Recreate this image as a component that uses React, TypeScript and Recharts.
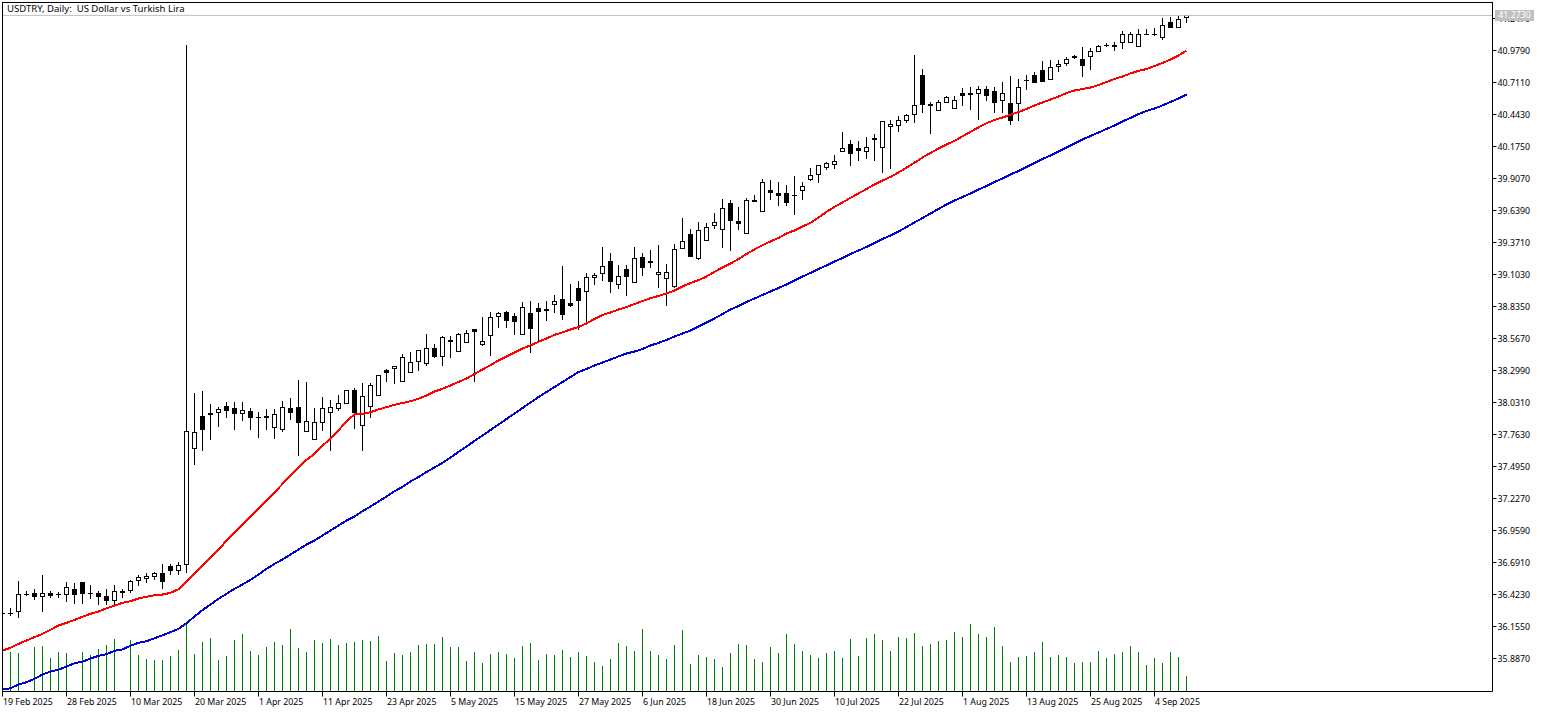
import React from 'react';
import { ComposedChart, Bar, Line, XAxis, YAxis, ReferenceLine } from 'recharts';

const dateLabels = ['19 Feb 2025', '28 Feb 2025', '10 Mar 2025', '20 Mar 2025', '1 Apr 2025', '11 Apr 2025', '23 Apr 2025', '5 May 2025', '15 May 2025', '27 May 2025', '6 Jun 2025', '18 Jun 2025', '30 Jun 2025', '10 Jul 2025', '22 Jul 2025', '1 Aug 2025', '13 Aug 2025', '25 Aug 2025', '4 Sep 2025'];
const priceTicks = [41.247, 40.979, 40.711, 40.443, 40.175, 39.907, 39.639, 39.371, 39.103, 38.835, 38.567, 38.299, 38.031, 37.763, 37.495, 37.227, 36.959, 36.691, 36.423, 36.155, 35.887];
const lastPrice = 41.273;

const open = [
  36.262, 36.268, 36.27, 36.423, 36.429, 36.401, 36.432, 36.423, 36.417, 36.465,
  36.524, 36.429, 36.432, 36.406, 36.367, 36.448, 36.451, 36.53, 36.551, 36.568,
  36.597, 36.658, 36.618, 36.664, 37.635, 37.911, 37.939, 37.942, 37.995, 37.978,
  37.933, 37.953, 37.903, 37.914, 37.816, 37.799, 37.978, 37.987, 37.783, 37.716,
  37.858, 37.942, 37.975, 38.017, 38.129, 37.833, 37.992, 38.084, 38.299, 38.31,
  38.201, 38.277, 38.369, 38.352, 38.481, 38.411, 38.551, 38.453, 38.528, 38.64,
  38.511, 38.588, 38.741, 38.782, 38.749, 38.595, 38.774, 38.816, 38.808, 38.841,
  38.891, 38.858, 38.984, 38.95, 39.067, 39.101, 39.21, 39.014, 39.143, 39.025,
  39.243, 39.21, 39.092, 39.059, 38.997, 39.31, 39.436, 39.226, 39.377, 39.508,
  39.474, 39.695, 39.545, 39.441, 39.721, 39.625, 39.804, 39.779, 39.779, 39.762,
  39.801, 39.893, 39.93, 39.994, 40.014, 40.122, 40.189, 40.156, 40.122, 40.24,
  40.156, 40.332, 40.34, 40.387, 40.432, 40.767, 40.513, 40.466, 40.538, 40.488,
  40.617, 40.6, 40.613, 40.65, 40.633, 40.555, 40.533, 40.525, 40.725, 40.767,
  40.809, 40.731, 40.834, 40.864, 40.926, 40.901, 40.918, 40.96, 41.021, 41.019,
  41.04, 41.035, 41.002, 41.111, 41.111, 41.082, 41.211, 41.161, 41.245,
];
const high = [
  36.264, 36.314, 36.54, 36.457, 36.471, 36.591, 36.457, 36.448, 36.532, 36.524,
  36.524, 36.507, 36.457, 36.473, 36.507, 36.473, 36.549, 36.591, 36.608, 36.616,
  36.683, 36.683, 36.7, 41.03, 38.115, 38.132, 38.023, 37.998, 38.04, 38.04,
  38.04, 37.989, 37.956, 37.981, 37.981, 38.048, 38.073, 38.224, 38.207, 37.989,
  38.081, 38.056, 38.098, 38.129, 38.157, 38.199, 38.199, 38.255, 38.314, 38.341,
  38.439, 38.458, 38.464, 38.609, 38.523, 38.59, 38.59, 38.615, 38.64, 38.649,
  38.752, 38.793, 38.793, 38.802, 38.782, 38.875, 38.885, 38.866, 38.885, 38.936,
  39.179, 39.028, 39.05, 39.12, 39.117, 39.338, 39.285, 39.187, 39.184, 39.338,
  39.287, 39.31, 39.354, 39.195, 39.36, 39.581, 39.488, 39.547, 39.536, 39.62,
  39.737, 39.729, 39.67, 39.746, 39.771, 39.905, 39.896, 39.882, 39.854, 39.932,
  39.88, 39.999, 40.014, 40.047, 40.108, 40.301, 40.231, 40.225, 40.256, 40.282,
  40.393, 40.401, 40.435, 40.449, 40.946, 40.826, 40.55, 40.566, 40.6, 40.6,
  40.667, 40.675, 40.684, 40.684, 40.675, 40.717, 40.767, 40.742, 40.776, 40.801,
  40.895, 40.901, 40.901, 40.926, 40.943, 41.013, 41.002, 41.027, 41.044, 41.052,
  41.144, 41.136, 41.161, 41.161, 41.169, 41.253, 41.261, 41.272, 41.278,
];
const low = [
  36.256, 36.239, 36.225, 36.406, 36.373, 36.275, 36.392, 36.392, 36.359, 36.339,
  36.339, 36.381, 36.331, 36.331, 36.331, 36.39, 36.434, 36.49, 36.515, 36.54,
  36.465, 36.582, 36.582, 36.599, 37.504, 37.621, 37.713, 37.822, 37.897, 37.797,
  37.872, 37.797, 37.73, 37.797, 37.721, 37.78, 37.88, 37.579, 37.783, 37.716,
  37.788, 37.621, 37.958, 38.017, 37.805, 37.621, 37.897, 38.084, 38.201, 38.182,
  38.201, 38.277, 38.291, 38.333, 38.4, 38.333, 38.4, 38.453, 38.528, 38.201,
  38.503, 38.416, 38.651, 38.651, 38.592, 38.595, 38.442, 38.542, 38.71, 38.777,
  38.715, 38.827, 38.632, 38.69, 39.011, 39.045, 38.942, 38.98, 38.919, 39.025,
  39.086, 39.151, 38.986, 38.835, 38.983, 39.31, 39.248, 39.218, 39.377, 39.478,
  39.321, 39.296, 39.472, 39.441, 39.706, 39.625, 39.723, 39.673, 39.673, 39.597,
  39.723, 39.88, 39.863, 39.974, 39.983, 40.122, 40.008, 40.05, 40.066, 40.05,
  39.949, 39.983, 40.292, 40.37, 40.365, 40.454, 40.278, 40.466, 40.533, 40.488,
  40.513, 40.479, 40.395, 40.555, 40.454, 40.454, 40.354, 40.387, 40.647, 40.705,
  40.714, 40.731, 40.792, 40.843, 40.901, 40.751, 40.809, 40.96, 41.002, 40.967,
  40.99, 41.035, 41.002, 41.102, 41.094, 41.066, 41.161, 41.161, 41.203,
];
const close = [
  36.258, 36.26, 36.421, 36.425, 36.401, 36.429, 36.409, 36.423, 36.479, 36.415,
  36.423, 36.429, 36.398, 36.365, 36.446, 36.434, 36.53, 36.563, 36.571, 36.597,
  36.524, 36.616, 36.664, 37.786, 37.778, 37.797, 37.925, 37.97, 37.958, 37.931,
  37.962, 37.897, 37.903, 37.897, 37.928, 37.987, 37.942, 37.855, 37.87, 37.861,
  37.978, 37.987, 38.02, 38.129, 37.939, 38.079, 38.171, 38.255, 38.277, 38.333,
  38.406, 38.364, 38.464, 38.481, 38.408, 38.573, 38.534, 38.598, 38.607, 38.62,
  38.54, 38.741, 38.774, 38.712, 38.701, 38.824, 38.645, 38.785, 38.796, 38.875,
  38.757, 38.835, 38.875, 39.076, 39.092, 39.168, 39.039, 39.084, 39.081, 39.235,
  39.156, 39.198, 39.117, 39.117, 39.31, 39.377, 39.248, 39.469, 39.494, 39.536,
  39.653, 39.55, 39.525, 39.721, 39.709, 39.871, 39.784, 39.756, 39.7, 39.762,
  39.838, 39.93, 40.014, 40.03, 40.047, 40.156, 40.111, 40.136, 40.164, 40.225,
  40.382, 40.357, 40.391, 40.432, 40.516, 40.521, 40.53, 40.541, 40.583, 40.558,
  40.597, 40.617, 40.65, 40.597, 40.538, 40.617, 40.387, 40.667, 40.725, 40.705,
  40.714, 40.834, 40.859, 40.901, 40.91, 40.848, 40.968, 41.01, 41.01, 41.002,
  41.111, 41.111, 41.111, 41.111, 41.102, 41.186, 41.161, 41.236, 41.273,
];
const maFast = [
  35.954, 35.977, 36.01, 36.038, 36.066, 36.094, 36.128, 36.164, 36.186, 36.211,
  36.237, 36.262, 36.281, 36.308, 36.329, 36.354, 36.367, 36.39, 36.404, 36.417,
  36.423, 36.437, 36.468, 36.532, 36.597, 36.664, 36.731, 36.798, 36.875, 36.942,
  37.01, 37.077, 37.143, 37.21, 37.277, 37.35, 37.417, 37.484, 37.551, 37.602,
  37.671, 37.727, 37.797, 37.875, 37.931, 37.933, 37.95, 37.973, 37.992, 38.012,
  38.027, 38.042, 38.062, 38.09, 38.123, 38.146, 38.174, 38.203, 38.232, 38.27,
  38.308, 38.344, 38.383, 38.417, 38.45, 38.484, 38.509, 38.54, 38.567, 38.598,
  38.618, 38.643, 38.664, 38.693, 38.731, 38.764, 38.785, 38.81, 38.831, 38.856,
  38.881, 38.905, 38.923, 38.944, 38.969, 39.003, 39.032, 39.056, 39.086, 39.126,
  39.162, 39.195, 39.233, 39.275, 39.313, 39.349, 39.38, 39.409, 39.447, 39.472,
  39.505, 39.536, 39.581, 39.627, 39.669, 39.706, 39.746, 39.782, 39.819, 39.857,
  39.89, 39.92, 39.957, 39.998, 40.04, 40.083, 40.121, 40.159, 40.192, 40.222,
  40.26, 40.298, 40.335, 40.37, 40.397, 40.418, 40.441, 40.464, 40.489, 40.519,
  40.544, 40.569, 40.594, 40.623, 40.644, 40.657, 40.669, 40.69, 40.715, 40.741,
  40.761, 40.787, 40.808, 40.824, 40.849, 40.875, 40.904, 40.937, 40.979,
];
const maSlow = [
  35.628, 35.638, 35.67, 35.689, 35.717, 35.753, 35.778, 35.793, 35.82, 35.848,
  35.86, 35.887, 35.91, 35.923, 35.952, 35.963, 35.994, 36.019, 36.032, 36.057,
  36.082, 36.108, 36.136, 36.183, 36.239, 36.292, 36.34, 36.387, 36.429, 36.471,
  36.507, 36.546, 36.591, 36.638, 36.68, 36.716, 36.758, 36.8, 36.842, 36.875,
  36.917, 36.959, 37.001, 37.043, 37.077, 37.121, 37.16, 37.202, 37.244, 37.288,
  37.324, 37.37, 37.407, 37.449, 37.487, 37.526, 37.571, 37.617, 37.663, 37.709,
  37.755, 37.801, 37.847, 37.893, 37.939, 37.985, 38.031, 38.077, 38.119, 38.161,
  38.203, 38.245, 38.287, 38.312, 38.341, 38.366, 38.391, 38.417, 38.442, 38.458,
  38.479, 38.509, 38.53, 38.555, 38.584, 38.609, 38.634, 38.668, 38.701, 38.735,
  38.772, 38.81, 38.839, 38.873, 38.902, 38.932, 38.961, 38.99, 39.02, 39.053,
  39.086, 39.116, 39.149, 39.179, 39.212, 39.241, 39.275, 39.304, 39.334, 39.367,
  39.401, 39.43, 39.463, 39.501, 39.539, 39.576, 39.614, 39.652, 39.689, 39.723,
  39.752, 39.782, 39.815, 39.844, 39.878, 39.907, 39.941, 39.97, 40.004, 40.037,
  40.071, 40.1, 40.133, 40.167, 40.2, 40.234, 40.263, 40.292, 40.322, 40.351,
  40.385, 40.414, 40.447, 40.473, 40.493, 40.519, 40.548, 40.577, 40.611,
];
const volume = [
  0, 40, 39, 1, 45, 46, 34, 40, 39, 0,
  40, 37, 43, 47, 53, 0, 52, 37, 33, 32,
  32, 36, 42, 68, 38, 50, 54, 32, 36, 52,
  58, 41, 37, 45, 50, 47, 63, 44, 40, 52,
  49, 53, 47, 49, 50, 52, 51, 56, 31, 39,
  37, 40, 47, 48, 48, 55, 45, 45, 31, 40,
  29, 38, 40, 38, 34, 46, 49, 32, 38, 37,
  42, 35, 40, 36, 30, 26, 33, 49, 46, 41,
  63, 41, 37, 33, 47, 62, 28, 37, 35, 33,
  25, 39, 48, 47, 33, 30, 45, 39, 58, 48,
  41, 37, 34, 39, 41, 34, 53, 36, 54, 58,
  52, 41, 55, 54, 59, 46, 48, 51, 52, 60,
  55, 68, 58, 55, 65, 46, 30, 35, 36, 40,
  50, 35, 37, 35, 29, 30, 30, 41, 34, 38,
  40, 46, 40, 27, 34, 29, 40, 35, 16,
];

const rows = open.map((o, i) => ({
  idx: i,
  o,
  h: high[i],
  l: low[i],
  c: close[i],
  range: [low[i], high[i]],
  fast: maFast[i],
  slow: maSlow[i],
  vol: volume[i],
}));

const FONT = '"Noto Sans", sans-serif';
const FONT_SIZE = 8.8;
const snap = (v: number) => Math.round(v - 0.5) + 0.5;

// wick and body both hang off the high-low bar the library scaled for us
const Candle = (props: any) => {
  const { x, y, width, height, payload } = props;
  const { o, h, l, c } = payload;
  const cx = x + width / 2;
  const perUnit = height / (h - l);
  const top = snap(y);
  const bottom = Math.max(top, snap(y + height) - 1);
  const bodyTop = snap(y + (h - Math.max(o, c)) * perUnit);
  const bodyBottom = Math.max(bodyTop, snap(y + (h - Math.min(o, c)) * perUnit) - 1);
  const bear = c < o;
  return (
    <g shapeRendering="crispEdges">
      <line x1={cx} x2={cx} y1={top} y2={bottom} stroke="#000" />
      {bodyBottom - bodyTop < 1 ? (
        <line x1={cx - 2} x2={cx + 3} y1={bodyTop} y2={bodyTop} stroke="#000" />
      ) : (
        <rect x={cx - 2} y={bodyTop} width={4} height={bodyBottom - bodyTop} fill={bear ? '#000' : '#fff'} stroke="#000" />
      )}
    </g>
  );
};

const VolumeStick = (props: any) => {
  const { x, y, width, height } = props;
  if (!height) return null;
  const cx = x + width / 2;
  return <line x1={cx} x2={cx} y1={y} y2={y + height} stroke="#008000" shapeRendering="crispEdges" />;
};

const DateTick = (props: any) => {
  const { x, y, payload } = props;
  return (
    <text x={x + 0.5} y={y + 6} fontSize={FONT_SIZE} fontFamily={FONT} fill="#000">
      {dateLabels[payload.value / 8]}
    </text>
  );
};

const PriceTick = (props: any) => {
  const { x, y, payload } = props;
  return (
    <text x={x} y={y + 3.5} fontSize={FONT_SIZE} fontFamily={FONT} fill="#000">
      {payload.value.toFixed(4)}
    </text>
  );
};

export default function App() {
  return (
    <div style={{ position: 'absolute', left: 0, top: 0, width: 1545, height: 712, background: '#fff' }}>
      <ComposedChart
        width={1545}
        height={712}
        data={rows}
        margin={{ top: 2.5, left: 2.5, right: 0, bottom: 0 }}
      >
        <XAxis
          xAxisId="t"
          dataKey="idx"
          type="number"
          domain={[0, 186.25]}
          allowDataOverflow
          ticks={dateLabels.map((_, i) => i * 8)}
          interval={0}
          tick={<DateTick />}
          tickSize={5}
          tickMargin={2}
          tickLine={{ stroke: '#000' }}
          axisLine={{ stroke: '#000' }}
          height={20.5}
        />
        <XAxis xAxisId="v" dataKey="idx" type="number" domain={[0, 186.25]} allowDataOverflow hide />
        <YAxis
          yAxisId="price"
          orientation="right"
          domain={[35.611, 41.381]}
          allowDataOverflow
          ticks={priceTicks}
          interval={0}
          tick={<PriceTick />}
          tickSize={4}
          tickMargin={1}
          tickLine={{ stroke: '#000' }}
          axisLine={{ stroke: '#000' }}
          width={52.5}
        />
        <YAxis yAxisId="vol" domain={[0, 689]} hide />
        <Bar xAxisId="v" yAxisId="vol" dataKey="vol" barSize={1} shape={<VolumeStick />} isAnimationActive={false} />
        <ReferenceLine xAxisId="t" yAxisId="price" y={lastPrice} stroke="#c0c0c0" />
        <Bar xAxisId="t" yAxisId="price" dataKey="range" barSize={1} shape={<Candle />} isAnimationActive={false} />
        <Line xAxisId="t" yAxisId="price" dataKey="fast" stroke="#ff0000" strokeWidth={2} dot={false} activeDot={false} shapeRendering="crispEdges" isAnimationActive={false} />
        <Line xAxisId="t" yAxisId="price" dataKey="slow" stroke="#0000cd" strokeWidth={2} dot={false} activeDot={false} shapeRendering="crispEdges" isAnimationActive={false} />
      </ComposedChart>
      <div style={{ position: 'absolute', left: 2, top: 2, width: 1490, height: 689, borderLeft: '1px solid #000', borderTop: '1px solid #000', pointerEvents: 'none' }} />
      <div style={{ position: 'absolute', left: 7, top: 3, fontFamily: FONT, fontSize: 9.55, lineHeight: '12px', whiteSpace: 'pre', color: '#000' }}>
        {'USDTRY, Daily:  US Dollar vs Turkish Lira'}
      </div>
      <div style={{ position: 'absolute', left: 1495, top: 10, width: 39, height: 11, background: '#c0c0c0', color: '#fff', fontFamily: FONT, fontSize: FONT_SIZE, lineHeight: '11px', textAlign: 'center' }}>
        {lastPrice.toFixed(4)}
      </div>
    </div>
  );
}
